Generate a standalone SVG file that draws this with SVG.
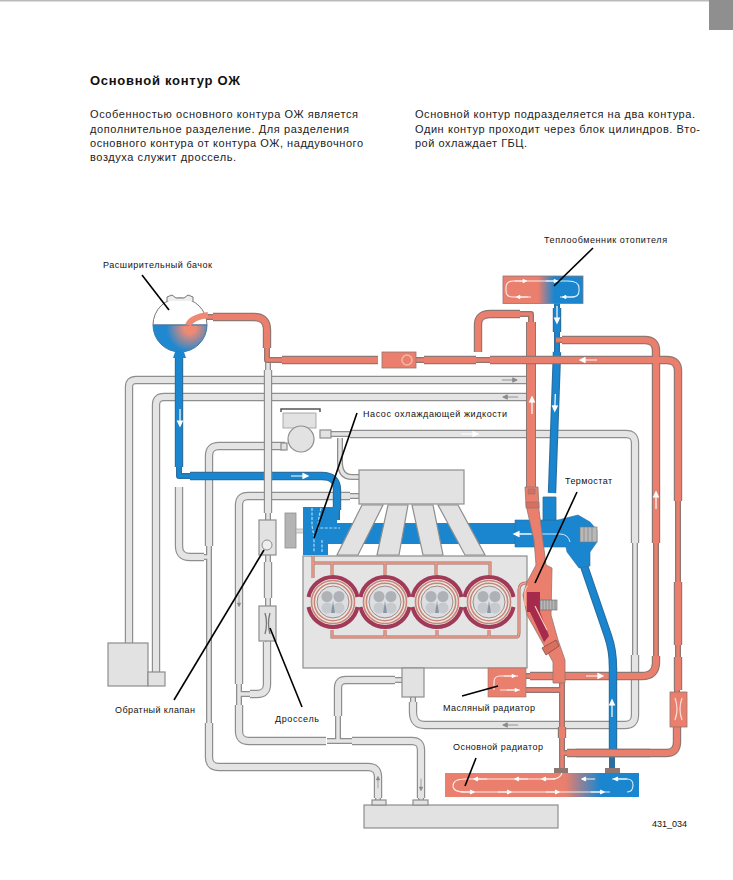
<svg xmlns="http://www.w3.org/2000/svg" xmlns:xlink="http://www.w3.org/1999/xlink" width="733" height="880" viewBox="0 0 733 880">
<style>
text{font-family:"Liberation Sans",Arial,sans-serif;fill:#111}
.lab{font-size:9px}
.body{font-size:11px;fill:#222}
.title{font-size:13px;font-weight:bold}
.p{fill:none;stroke-linejoin:round}
.ge{stroke:#8e8e8e}.gi{stroke:#e4e4e4}
.re{stroke:#8f7671}.ri{stroke:#ea7f6e}
.be{stroke:#2a6f9f}.bi{stroke:#1a86cf}
.w9{stroke-width:8.4}.w6{stroke-width:6}
.w5{stroke-width:6}.w3{stroke-width:3.4}
.box{fill:#e2e2e2;stroke:#8e8e8e;stroke-width:1.2}
.lead{stroke:#000;stroke-width:1.6;fill:none}
.aw{fill:#fff;stroke:#fff;stroke-width:1.2}
.ag{fill:#8a8a8a;stroke:#8a8a8a;stroke-width:1}
.loop{fill:none;stroke:#fff;stroke-width:1.1;opacity:.85}
.cool{fill:none;stroke:#a8685f;stroke-width:3}
.cooli{fill:none;stroke:#f0a08e;stroke-width:1.6}
</style>
<defs>
<linearGradient id="gHeat" x1="0" x2="1" y1="0" y2="0"><stop offset="0.44" stop-color="#ea7f6e"/><stop offset="0.64" stop-color="#1a86cf"/></linearGradient>
<linearGradient id="gRad" x1="0" x2="1" y1="0" y2="0"><stop offset="0.62" stop-color="#ea7f6e"/><stop offset="0.8" stop-color="#1a86cf"/></linearGradient>
<radialGradient id="gTank" gradientUnits="userSpaceOnUse" cx="190" cy="328" r="28"><stop offset="0.2" stop-color="#ee8a74"/><stop offset="0.85" stop-color="#1f88d0"/></radialGradient>
<path id="aw" d="M-9 0H7M3-2.400 8 0 3 2.400Z"/>
<g id="cyl">
<path d="M-24.500-5A25 25 0 0 1 24.500-5M-24.500 5A25 25 0 0 0 24.500 5" fill="none" stroke="#a03a58" stroke-width="4"/>
<circle r="21.500" fill="#ececec" stroke="#c98575" stroke-width="1.600"/>
<circle r="18.700" fill="#e9e9e9" stroke="#c98575" stroke-width="1.600"/>
<circle r="16" fill="#dcdee1" stroke="#a08a85" stroke-width="1"/>
<circle cx="-6" cy="-5.500" r="5.500" fill="#aeb1b6"/>
<circle cx="6" cy="-5.500" r="5.500" fill="#aeb1b6"/>
<circle cx="-6" cy="6" r="5.500" fill="#c6c9cd"/>
<circle cx="6" cy="6" r="5.500" fill="#c6c9cd"/>
<path d="M0-1 2 11H-2Z" fill="#8795a5"/>
</g>
<path id="g1w" d="M526 380H136Q129 380 129 387V644M526 397H164Q156 397 156 405V672M179 487V546Q179 557 190 557H204M239 598V505Q239 496 248 496H350M209 546V456Q209 446 219 446H285M209 723V757Q209 767 219 767H368Q378 767 378 777V798M239 684V598M239 705V731Q239 741 249 741H326M338 688Q338 680 346 680H395M338 716V688M352 741H412Q421 741 421 750V798M350 434H626Q635 434 635 443V543M635 655V715Q635 725 625 725H425Q413 725 413 712V702M267 648V684Q267 694 257 694H250"/>
<path id="g1t" d="M239 684V705M209 546V723M204 557H209M239 694H250M327 741H352M338 716V741M395 680H402M378 798V805M421 798V805M340 438V462Q340 477 352 477H359M350 496H359M413 702V697M320 434H350M635 543V655"/>
<path id="g2w" d="M268 370V513M268 562V598M267 648V642"/>
<path id="g2t" d="M268 513V520M268 555V562M268 598V606M268 641V648M268 360V370"/>
<path id="b1w" d="M179 355V467M190 476H322Q337 476 337 490V510"/>
<path id="b1t" d="M179 351V355M179 467V476H190M337 510V520"/>
<path id="b2w" d="M557 308V332M557 352 552 493"/>
<path id="b2t" d="M557 303V308M557 332V352"/>
<path id="b3w" d="M583 563 608 636Q613 650 613 668V752"/>
<path id="b3t" d="M612 752V773"/>
<path id="r1w" d="M213 317H254Q267 317 267 330V348M282 360H378M424 360H476M490 360H667Q678 360 678 371V501M478 352V325Q478 314 490 314H520M562 340H645Q656 340 656 351V543M656 656V662Q656 676 642 676H530M678 582V645M678 657V690M677 727V742Q677 753 666 753H567M562 727V738"/>
<path id="r1t" d="M205 317H213M267 348V360H282M416 360H424M476 360H490M520 314H531V322M556 340H562M678 501V582M678 645V657M677 690V692M677 727V730M526 676H530M526 690H562M562 753H567M562 683V773M656 543V656"/>
<path id="r2" d="M531 322V487"/>
</defs>
<rect width="733" height="880" fill="#fff"/>
<rect x="0" y="0" width="733" height="1.500" fill="#bbb"/>
<rect x="709" y="0" width="24" height="30" fill="#8f8f8f"/>
<g id="heading">
<text class="title" x="90" y="85" textLength="150">Основной контур ОЖ</text>
<text class="body" x="90" y="118" textLength="268">Особенностью основного контура ОЖ является</text>
<text class="body" x="90" y="133" textLength="259">дополнительное разделение. Для разделения</text>
<text class="body" x="90" y="147" textLength="273">основного контура от контура ОЖ, наддувочного</text>
<text class="body" x="90" y="161" textLength="146">воздуха служит дроссель.</text>
<text class="body" x="415" y="118" textLength="280">Основной контур подразделяется на два контура.</text>
<text class="body" x="415" y="133" textLength="285">Один контур проходит через блок цилиндров. Вто-</text>
<text class="body" x="415" y="147" textLength="112">рой охлаждает ГБЦ.</text>
</g>
<g id="connectors">
<use href="#g1t" class="p ge w5"/><use href="#g1t" class="p gi w3"/>
<use href="#g1w" class="p ge w9"/><use href="#g1w" class="p gi w6"/>
<use href="#b1t" class="p be w5"/><use href="#b1t" class="p bi w3"/>
<use href="#b1w" class="p be w9"/><use href="#b1w" class="p bi w6"/>
<use href="#g2t" class="p ge w5"/><use href="#g2t" class="p gi w3"/>
<use href="#g2w" class="p ge w9"/><use href="#g2w" class="p gi w6"/>
<use href="#b2t" class="p be w5"/><use href="#b2t" class="p bi w3"/>
<use href="#b2w" class="p be w9"/><use href="#b2w" class="p bi w6"/>
<use href="#b3t" class="p be w5"/>
<use href="#r2" class="p re" stroke-width="10"/><use href="#r2" class="p ri" stroke-width="8"/>
<use href="#r1t" class="p re w5"/><use href="#r1t" class="p ri w3"/>
<use href="#r1w" class="p re w9"/><use href="#r1w" class="p ri w6"/>
<use href="#b3w" class="p be w9"/><use href="#b3w" class="p bi w6"/>
<path class="p re w9" d="M576 753H650"/><path class="p ri w6" d="M576 753H650"/>
<use href="#aw" class="aw" transform="translate(180 418) rotate(90)"/>
<use href="#aw" class="aw" transform="translate(300 476)"/>
<use href="#aw" class="aw" transform="translate(588 360) rotate(180)"/>
<use href="#aw" class="aw" transform="translate(532 405) rotate(-90)"/>
<use href="#aw" class="aw" transform="translate(555 403) rotate(92)"/>
<use href="#aw" class="aw" transform="translate(557 315) rotate(90)"/>
<use href="#aw" class="aw" transform="translate(656 500) rotate(-90)"/>
<use href="#aw" class="aw" transform="translate(612 708) rotate(-90)"/>
<use href="#aw" class="aw" transform="translate(595 676)"/>
<use href="#aw" class="aw" transform="translate(470 434)"/>
<use href="#aw" class="ag" transform="translate(510 380) scale(.9)"/>
<use href="#aw" class="ag" transform="translate(510 397) rotate(180) scale(.9)"/>
<use href="#aw" class="ag" transform="translate(239 601) rotate(90) scale(.7)"/>
<use href="#aw" class="ag" transform="translate(378 782) rotate(-90) scale(.7)"/>
<use href="#aw" class="ag" transform="translate(421 785) rotate(90) scale(.7)"/>
<use href="#aw" class="ag" transform="translate(510 725) rotate(180) scale(.9)"/>
</g>
<g id="tank">
<path d="M153 325A27 27 0 0 1 207 325Z" fill="#fff" stroke="#777" stroke-width="1"/>
<path d="M153 325H207A27 27 0 0 1 153 325Z" fill="url(#gTank)" stroke="#3b78a8" stroke-width="1"/>
<path d="M175 352H184L186 358H173Z" fill="#1a86cf"/>
<path d="M167 301V297L172 295 176 298H184L188 295 193 297V301" fill="#eee" stroke="#777" stroke-width="1"/>
<path d="M188 325Q192 317 208 315" fill="none" stroke="#ee8a74" stroke-width="6"/>
</g>
<g id="pump">
<rect x="283" y="413" width="33" height="15" fill="#e2e2e2" stroke="#999" stroke-width=".8"/>
<path d="M281 412V409H320V412" fill="none" stroke="#555" stroke-width="1.500"/>
<circle cx="301" cy="439" r="13" fill="#e2e2e2" stroke="#8e8e8e" stroke-width="1.200"/>
<rect x="320" y="430" width="11" height="8" class="box"/>
<rect x="281" y="443" width="6" height="7" class="box"/>
</g>
<g id="reservoir"><rect x="108" y="643" width="40" height="43" class="box"/><rect x="148" y="672" width="17" height="14" class="box"/></g>
<g id="check-valve"><rect x="259" y="520" width="17" height="35" class="box"/><circle cx="267" cy="545" r="5" fill="#eee" stroke="#8e8e8e"/></g>
<g id="throttle"><rect x="259" y="606" width="17" height="35" class="box"/><path d="M265 613Q268 623 265 634M270 613Q267 623 270 634" fill="none" stroke="#777" stroke-width="1.300"/></g>
<g id="engine">
<path d="M304 523H567V544H304Z" fill="#1a86cf"/>
<rect x="285" y="513" width="11" height="35" fill="#b4b4b4" stroke="#8e8e8e" stroke-width=".8"/>
<rect x="296" y="529" width="8" height="4" fill="#ddd" stroke="#999" stroke-width=".6"/>
<rect x="303" y="507" width="25" height="48" fill="#1a86cf"/>
<rect x="328" y="507" width="9" height="30" fill="#1a86cf"/>
<path d="M312 508V524Q312 528 314 535V552M321 508Q318 520 318 528H340M322 540V552" fill="none" stroke="#a8dcf5" stroke-width="1.200" stroke-dasharray="3 1.500"/>
<path class="box" d="M362 505H383L358 555H337ZM388 505H408L399 555H377ZM412 505H433L443 555H423ZM438 505H458L485 555H465Z"/>
<rect x="303" y="556" width="224" height="112" fill="#e4e4e4" stroke="#8e8e8e" stroke-width="1.200"/>
<path class="cool" d="M313 556V563H490V575M332 563V575M385 563V575M436 563V575M313 563V578M332 630V637H517Q519 637 519 632V590Q519 583 526 583H538Q545 583 545 590V597M385 630V637M437 630V637M489 630V637"/>
<path class="cooli" d="M313 556V563H490V575M332 563V575M385 563V575M436 563V575M313 563V578M332 630V637H517Q519 637 519 632V590Q519 583 526 583H538Q545 583 545 590V597M385 630V637M437 630V637M489 630V637"/>
<use href="#cyl" x="333" y="602"/><use href="#cyl" x="385" y="602"/><use href="#cyl" x="437" y="602"/><use href="#cyl" x="489" y="602"/>
</g>
<g id="manifold"><rect x="359" y="470" width="105" height="34" class="box"/></g>
<g id="thermostat">
<path d="M515 520H558L578 515 590 522 597 530V542L590 552V566L579 568 567 552 566 547H515Z" fill="#1a86cf" stroke="#2a6f9f" stroke-width=".6"/>
<path d="M543 520V497H556V520Z" fill="#1a86cf" stroke="#2a6f9f" stroke-width=".8"/>
<path d="M520 534H560Q568 534 570 542" fill="none" stroke="#cfeeff" stroke-width="1"/>
<use href="#aw" class="aw" transform="translate(522 534) rotate(180)"/>
<rect x="580" y="527" width="17" height="15" fill="#b8b8b8" stroke="#777" stroke-width=".6"/>
<path d="M584 527V542M588 527V542M592 527V542" stroke="#888" stroke-width=".8" fill="none"/>
<path d="M525 487 538 487 539 510 546 565 552 568 551 615 558 640 565 660V683H553V662L541 640 527 615 523 595 527 582 536 565 534 540 526 505Z" fill="#ea7f6e" stroke="#8f7671" stroke-width=".8"/>
<path d="M526 502H539V508H526ZM528 489H535V494H528Z" fill="#d8705f" stroke="#8f7671" stroke-width=".7"/>
<path d="M542 648 556 640 559 646 546 655Z" fill="#d8705f" stroke="#8f4a4a" stroke-width=".8"/>
<path d="M527 592H540V612L527 612ZM530 612 540 612 549 636 544 642Z" fill="#a52a4c"/>
<path d="M528 586Q526 586 525 592V606M535 606 547 630" fill="none" stroke="#f7c8b8" stroke-width="1.200"/>
<rect x="540" y="600" width="17" height="10" fill="#b8b8b8" stroke="#666" stroke-width=".6"/>
<path d="M543 600V610M546 600V610M549 600V610M552 600V610M555 600V610" stroke="#777" stroke-width=".7" fill="none"/>
</g>
<g id="block-lower"><rect x="402" y="668" width="22" height="29" class="box"/></g>
<g id="heater-exchanger">
<rect x="503" y="276" width="80" height="27.500" fill="url(#gHeat)" stroke="#8f7671" stroke-width=".8"/>
<path class="loop" d="M531 297H513Q506 297 506 291V288Q506 281 513 281H568Q579 281 579 288V291Q579 297 572 297H560"/>
<use href="#aw" class="aw" transform="translate(521 281) scale(.7)"/>
<use href="#aw" class="aw" transform="translate(552 281) scale(.7)"/>
<use href="#aw" class="aw" transform="translate(568 297) rotate(180) scale(.7)"/>
<use href="#aw" class="aw" transform="translate(522 297) rotate(180) scale(.7)"/>
</g>
<g id="oil-cooler">
<rect x="488" y="668" width="38" height="29" fill="#ea7f6e" stroke="#8f7671" stroke-width=".6"/>
<path class="loop" d="M494 690V682Q494 676 500 676H518M500 690H520"/>
<use href="#aw" class="aw" transform="translate(510 676) scale(.7)"/>
<use href="#aw" class="aw" transform="translate(513 690) scale(.7)"/>
</g>
<g id="main-radiator">
<rect x="445" y="773" width="194" height="24" fill="url(#gRad)"/>
<path d="M554 768H568V773H554ZM605 768H620V773H605Z" fill="#8f7671"/>
<path class="loop" d="M562 773Q560 779 552 779H465Q453 779 453 786Q453 792 465 792H610M612 779H627Q633 779 633 785Q633 792 627 792"/>
<use href="#aw" class="aw" transform="translate(480 779) rotate(180) scale(.8)"/>
<use href="#aw" class="aw" transform="translate(521 779) rotate(180) scale(.8)"/>
<use href="#aw" class="aw" transform="translate(548 779) rotate(180) scale(.8)"/>
<use href="#aw" class="aw" transform="translate(588 779) rotate(180) scale(.8)"/>
<use href="#aw" class="aw" transform="translate(620 779) rotate(180) scale(.8)"/>
<use href="#aw" class="aw" transform="translate(468 792) scale(.8)"/>
<use href="#aw" class="aw" transform="translate(505 792) scale(.8)"/>
<use href="#aw" class="aw" transform="translate(553 792) scale(.8)"/>
<use href="#aw" class="aw" transform="translate(598 792) scale(.8)"/>
</g>
<g id="heater-block"><rect x="364" y="805" width="194" height="23" class="box"/><rect x="372" y="800" width="14" height="5" class="box"/><rect x="413" y="800" width="15" height="5" class="box"/></g>
<g id="line-valve"><rect x="382" y="352" width="34" height="16" fill="#ea7f6e" stroke="#8f7671" stroke-width=".8"/><circle cx="407" cy="360" r="5" fill="none" stroke="#f6b8a5" stroke-width="1.500"/></g>
<g id="second-throttle"><rect x="670" y="692" width="17" height="35" fill="#ea7f6e" stroke="#8f7671" stroke-width=".8"/><path d="M675 698Q679 709 675 720M682 698Q678 709 682 720" fill="none" stroke="#f9e0d6" stroke-width="1.200"/></g>
<g id="leaders">
<path class="lead" d="M142 275 169 310"/>
<path class="lead" d="M593 248 554 286"/>
<path class="lead" d="M357 413 314 538"/>
<path class="lead" d="M577 492 535 583"/>
<path class="lead" d="M264 550 174 700"/>
<path class="lead" d="M270 628 302 707"/>
<path class="lead" d="M462 696 498 686"/>
<path class="lead" d="M476 758 465 786"/>
</g>
<g id="labels">
<text class="lab" x="103" y="268" textLength="109">Расширительный бачок</text>
<text class="lab" x="544" y="243" textLength="123">Теплообменник отопителя</text>
<text class="lab" x="363" y="417" textLength="144">Насос охлаждающей жидкости</text>
<text class="lab" x="565" y="484" textLength="47">Термостат</text>
<text class="lab" x="115" y="713" textLength="80">Обратный клапан</text>
<text class="lab" x="275" y="722" textLength="44">Дроссель</text>
<text class="lab" x="443" y="711" textLength="92">Масляный радиатор</text>
<text class="lab" x="453" y="750" textLength="90">Основной радиатор</text>
<text class="lab" x="652" y="827" textLength="35">431_034</text>
</g>
</svg>
